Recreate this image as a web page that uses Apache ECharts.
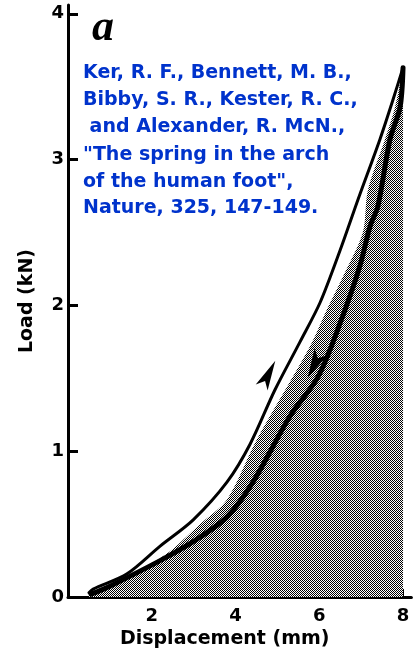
<!DOCTYPE html>
<html><head><meta charset="utf-8">
<script src="https://cdn.jsdelivr.net/npm/echarts@6/dist/echarts.min.js"></script>
<style>html,body{margin:0;padding:0;background:#fff}#c{width:415px;height:654px}</style>
</head><body><div id="c"></div>
<script>
// Loading curve (upper, up arrow)
const upperX = [0.50, 0.60, 1.41, 2.20, 2.99, 3.80, 4.35, 4.94, 5.54, 6.02, 6.50, 6.93, 7.45, 7.76, 8.00];
const upperY = [0.03, 0.055, 0.16, 0.35, 0.53, 0.79, 1.05, 1.42, 1.75, 2.02, 2.38, 2.73, 3.14, 3.41, 3.63];
// Unloading curve (lower, down arrow)
const lowerX = [0.55, 1.00, 2.20, 2.99, 3.80, 4.42, 5.30, 5.97, 6.50, 6.97, 7.21, 7.40, 7.69, 7.93, 8.00];
const lowerY = [0.02, 0.075, 0.25, 0.38, 0.55, 0.79, 1.24, 1.51, 1.88, 2.27, 2.54, 2.68, 3.14, 3.36, 3.63];
// Left edge of the stippled (shaded) region
const shadeX = [0.50, 1.00, 2.32, 3.15, 3.80, 4.51, 5.78, 6.18, 6.57, 7.04, 7.16, 7.57, 7.81, 8.00];
const shadeY = [0.02, 0.07, 0.29, 0.50, 0.67, 1.08, 1.72, 1.97, 2.20, 2.50, 2.79, 3.14, 3.36, 3.63];
// Direction arrows: [x, y] and rotation
const upArrow = [4.95, 1.62];
const downArrow = [5.72, 1.50];
const upArrowDir = -27;
const downArrowDir = 153;
// Ticks
const xTicks = [2, 4, 6, 8];
const yTicks = [0, 1, 2, 3, 4];
const xName = 'Displacement (mm)';
const yName = 'Load (kN)';
const panelLabel = 'a';
const citation = [
  'Ker, R. F., Bennett, M. B.,',
  'Bibby, S. R., Kester, R. C.,',
  ' and Alexander, R. McN.,',
  '"The spring in the arch',
  'of the human foot",',
  'Nature, 325, 147-149.'
];

const zip = (a, b) => a.map((v, i) => [v, b[i]]);

// halftone stipple pattern
const pat = document.createElement('canvas');
pat.width = 2; pat.height = 2;
const pc = pat.getContext('2d');
pc.fillStyle = '#fff'; pc.fillRect(0, 0, 2, 2);
pc.fillStyle = '#000'; pc.fillRect(0, 0, 1, 1); pc.fillRect(1, 1, 1, 1);

const chart = echarts.init(document.getElementById('c'), null, {renderer: 'canvas'});
const font = '"DejaVu Sans", sans-serif';
const citeTop = [73, 100, 127, 155, 182, 208];

chart.setOption({
  animation: false,
  backgroundColor: '#fff',
  grid: {left: 68, right: 3.6, top: 5, bottom: 56, containLabel: false},
  xAxis: {
    type: 'value', min: 0, max: 8.2,
    name: xName, nameLocation: 'middle', nameGap: 31,
    nameTextStyle: {color: '#000', fontFamily: font, fontWeight: 'bold', fontSize: 19, padding: [0, 30, 0, 0]},
    axisLine: {show: true, lineStyle: {color: '#000', width: 3}},
    axisTick: {show: true, inside: true, length: 8, customValues: xTicks, lineStyle: {color: '#000', width: 2}},
    axisLabel: {customValues: xTicks, color: '#000', fontFamily: font, fontWeight: 'bold', fontSize: 18, margin: 10},
    splitLine: {show: false}
  },
  yAxis: {
    type: 'value', min: 0, max: 4.06,
    name: yName, nameLocation: 'middle', nameGap: 31, nameRotate: 90,
    nameTextStyle: {color: '#000', fontFamily: font, fontWeight: 'bold', fontSize: 19},
    axisLine: {show: true, lineStyle: {color: '#000', width: 3}},
    axisTick: {show: true, inside: true, length: 10, customValues: [1, 2, 3, 4], lineStyle: {color: '#000', width: 3}},
    axisLabel: {customValues: yTicks, color: '#000', fontFamily: font, fontWeight: 'bold', fontSize: 18, margin: 4},
    splitLine: {show: false}
  },
  series: [
    {
      type: 'line', data: zip(shadeX, shadeY), smooth: 0.3, symbol: 'none', z: 1,
      lineStyle: {width: 0, opacity: 0},
      areaStyle: {color: {image: pat, repeat: 'repeat'}, opacity: 1}
    },
    {
      type: 'line', data: zip(lowerX, lowerY), smooth: 0.3, symbol: 'none', z: 3,
      lineStyle: {color: '#000', width: 5, cap: 'round', join: 'round'}
    },
    {
      type: 'line', data: zip(upperX, upperY), smooth: 0.3, symbol: 'none', z: 3,
      lineStyle: {color: '#000', width: 3, cap: 'round', join: 'round'}
    },
    {
      type: 'scatter', z: 5, data: [upArrow],
      symbol: 'arrow', symbolSize: [10, 30], symbolRotate: upArrowDir,
      itemStyle: {color: '#000', opacity: 1}
    },
    {
      type: 'scatter', z: 6, data: [downArrow],
      symbol: 'arrow', symbolSize: [11, 30], symbolRotate: downArrowDir,
      itemStyle: {color: '#000', opacity: 1}
    }
  ],
  graphic: [
    {type: 'text', z: 10, style: {x: 103, y: 29, text: panelLabel, align: 'center', verticalAlign: 'middle',
      font: 'italic bold 44px "Liberation Serif", serif', fill: '#000'}}
  ].concat(citation.map((t, i) => ({
    type: 'text', z: 10,
    style: {x: 83, y: citeTop[i], text: t, verticalAlign: 'middle', fill: '#0033cc',
      font: 'bold 19px "DejaVu Sans", sans-serif'}
  })))
});
</script></body></html>
